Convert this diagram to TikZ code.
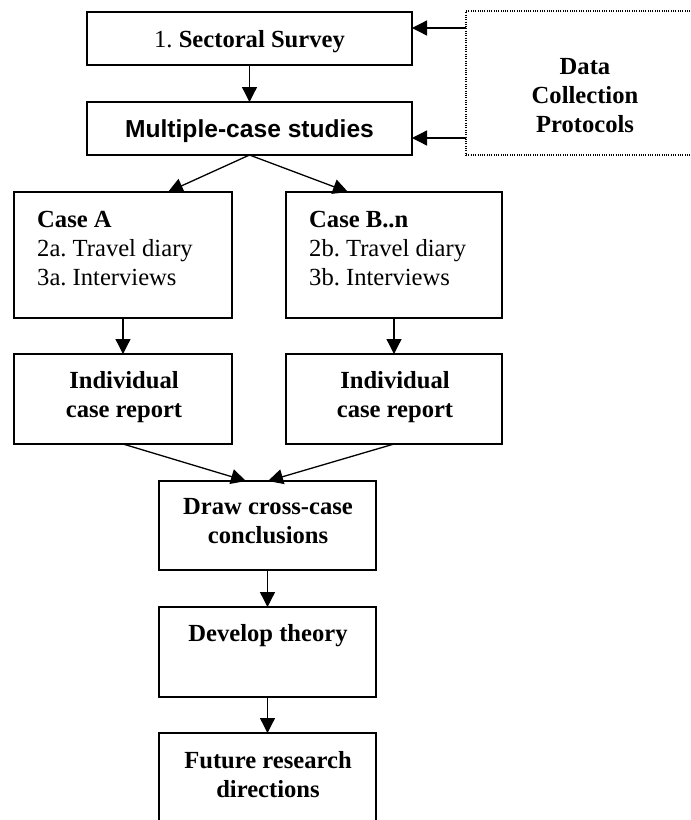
\documentclass[tikz,border=0pt]{standalone}
\usepackage{fontspec}
\setmainfont{Liberation Serif}
\newfontfamily\arialfont{Liberation Sans}
\usetikzlibrary{arrows.meta}
\frenchspacing
\begin{document}
\begin{tikzpicture}[x=1pt,y=-1pt,
  box/.style={draw, line width=1.3pt, inner sep=0pt, outer sep=0pt},
  dotbox/.style={draw, line width=1.1pt, dash pattern=on 1pt off 1.3pt, inner sep=0pt, outer sep=0pt},
  txt/.style={inner sep=0pt, anchor=base, font=\fontsize{24.6}{29}\selectfont},
  txtl/.style={txt, anchor=base west},
  arr/.style={line width=1.3pt, -{Triangle[length=15pt,width=15pt]}}]
\useasboundingbox (0,0) rectangle (691,820);
% boxes
\node[box, minimum width=325pt, minimum height=53pt] (survey) at (249.5,38.5) {};
\node[box, minimum width=325pt, minimum height=53pt] (multi) at (249.5,128.5) {};
\node[dotbox, minimum width=239pt, minimum height=144pt] (data) at (585.5,83) {};
\node[box, minimum width=218pt, minimum height=126pt] (caseA) at (123,255) {};
\node[box, minimum width=216pt, minimum height=126pt] (caseB) at (394,255) {};
\node[box, minimum width=218pt, minimum height=90pt] (indA) at (123,399) {};
\node[box, minimum width=216pt, minimum height=90pt] (indB) at (394,399) {};
\node[box, minimum width=217pt, minimum height=89pt] (draw) at (267.5,525.5) {};
\node[box, minimum width=217pt, minimum height=90pt] (theory) at (267.5,652) {};
\node[box, minimum width=217pt, minimum height=117pt] (future) at (267.5,791.5) {};
% texts
\node[txt] (tsurvey) at (249.5,47) {1. \textbf{Sectoral Survey}};
\node[txt] (tmulti) at (249.5,137) {\arialfont\bfseries Multiple-case studies};
\node[txt] (tdata) at (585,74) {\bfseries\begin{tabular}[t]{@{}c@{}}Data\\Collection\\Protocols\end{tabular}};
\node[txtl] (tcaseA) at (37,227) {\begin{tabular}[t]{@{}l@{}}\textbf{Case A}\\2a. Travel diary\\3a. Interviews\end{tabular}};
\node[txtl] (tcaseB) at (309,227) {\begin{tabular}[t]{@{}l@{}}\textbf{Case B..n}\\2b. Travel diary\\3b. Interviews\end{tabular}};
\node[txt] (tindA) at (124,388) {\bfseries\begin{tabular}[t]{@{}c@{}}Individual\\case report\end{tabular}};
\node[txt] (tindB) at (395,388) {\bfseries\begin{tabular}[t]{@{}c@{}}Individual\\case report\end{tabular}};
\node[txt] (tdraw) at (268,514) {\bfseries\begin{tabular}[t]{@{}c@{}}Draw cross-case\\conclusions\end{tabular}};
\node[txt] (ttheory) at (268,641) {\bfseries Develop theory};
\node[txt] (tfuture) at (268,768) {\bfseries\begin{tabular}[t]{@{}c@{}}Future research\\directions\end{tabular}};
% connectors
\draw[arr] ([yshift=-17pt]data.north west) -- ([yshift=10.5pt]survey.east);
\draw[arr] ([yshift=17pt]data.south west) -- ([yshift=-9.5pt]multi.east);
\draw[arr] (survey.south) -- (multi.north);
\draw[arr] (multi.south) -- ([xshift=45pt]caseA.north);
\draw[arr] (multi.south) -- ([xshift=-46pt]caseB.north);
\draw[arr] (caseA.south) -- (indA.north);
\draw[arr] (caseB.south) -- (indB.north);
\draw[arr] (indA.south) -- ([xshift=-21.5pt]draw.north);
\draw[arr] (indB.south) -- ([xshift=0.5pt]draw.north);
\draw[arr] (draw.south) -- (theory.north);
\draw[arr] (theory.south) -- (future.north);
\end{tikzpicture}
\end{document}
